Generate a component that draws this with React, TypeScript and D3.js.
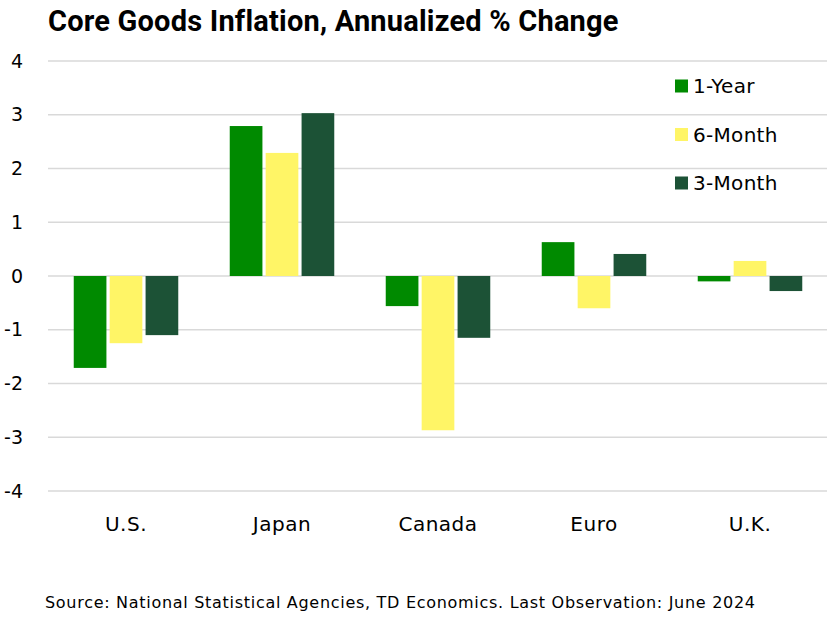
import React from "react";
import * as d3 from "d3";

const categories = ["U.S.", "Japan", "Canada", "Euro", "U.K."];
const seriesNames = ["1-Year", "6-Month", "3-Month"];
const oneYear = [-1.71, 2.79, -0.56, 0.63, -0.1];
const sixMonth = [-1.25, 2.29, -2.87, -0.6, 0.28];
const threeMonth = [-1.1, 3.03, -1.15, 0.41, -0.28];
const yTicks = [-4, -3, -2, -1, 0, 1, 2, 3, 4];
const colors = ["#008a00", "#fff566", "#1c5236"];

const W = 827;
const H = 617;

export default function App() {
  const series = [oneYear, sixMonth, threeMonth];
  const x = d3.scaleBand<string>().domain(categories).range([48, 828]).paddingInner(0.33).paddingOuter(0.165);
  const xi = d3.scaleBand<string>().domain(seriesNames).range([0, x.bandwidth()]).paddingInner(0.09);
  const y = d3.scaleLinear().domain([-4, 4]).range([491, 61]);
  const font = "Roboto, 'Noto Sans', sans-serif";
  const body = "'DejaVu Sans', sans-serif";
  return (
    <svg width={W} height={H} style={{ position: "absolute", left: 0, top: 0 }}>
      <rect width={W} height={H} fill="#fff" />
      <text x={48} y={31} fontFamily={font} fontWeight={700} fontSize={29} fill="#000" letterSpacing={0.2}>
        Core Goods Inflation, Annualized % Change
      </text>
      {yTicks.map((t) => (
        <g key={t}>
          <line x1={48} x2={827} y1={y(t)} y2={y(t)} stroke="#d9d9d9" strokeWidth={1.5} />
          <text x={23} y={y(t)} dy="0.35em" textAnchor="end" fontFamily={body} fontSize={19} fill="#000">
            {t}
          </text>
        </g>
      ))}
      {series.map((vals, si) =>
        vals.map((v, ci) => (
          <rect
            key={`${si}-${ci}`}
            x={(x(categories[ci]) as number) + (xi(seriesNames[si]) as number)}
            width={xi.bandwidth()}
            y={y(Math.max(0, v))}
            height={Math.abs(y(v) - y(0))}
            fill={colors[si]}
          />
        ))
      )}
      {categories.map((c) => (
        <text key={c} x={(x(c) as number) + x.bandwidth() / 2} y={531} textAnchor="middle" fontFamily={body} fontSize={20} fill="#000" letterSpacing={0.5}>
          {c}
        </text>
      ))}
      {seriesNames.map((s, i) => (
        <g key={s} transform={`translate(675, ${86 + i * 48.5})`}>
          <rect x={0} y={-6.5} width={13} height={13} fill={colors[i]} />
          <text x={18} y={0} dy="0.35em" fontFamily={body} fontSize={20} fill="#000" letterSpacing={0.3}>
            {s}
          </text>
        </g>
      ))}
      <text x={45} y={608} fontFamily={body} fontSize={16} fill="#000" textLength={710} lengthAdjust="spacing">
        Source: National Statistical Agencies, TD Economics. Last Observation: June 2024
      </text>
    </svg>
  );
}
